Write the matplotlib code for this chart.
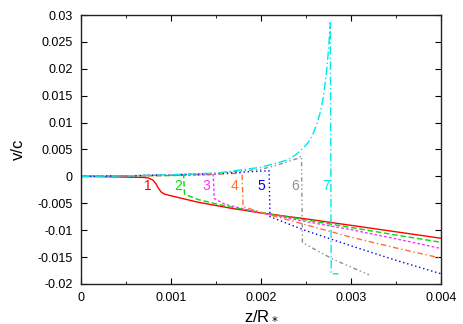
import matplotlib
matplotlib.use("Agg")
import matplotlib.pyplot as plt
from matplotlib.ticker import MultipleLocator

plt.rcParams["font.family"] = ["Liberation Sans", "DejaVu Sans"]

# velocity profiles v/c against z/R*, one per time step
z1 = [0, 0.0004, 0.0007, 0.00075, 0.0008, 0.00083, 0.00086, 0.00089, 0.00093, 0.001, 0.0013, 0.00166, 0.002, 0.0025, 0.003, 0.0035, 0.004]
v1 = [0, -0.0001, -0.0002, -0.0003, -0.0007, -0.0013, -0.0022, -0.0029, -0.0033, -0.0036, -0.0048, -0.0059, -0.0068, -0.0079, -0.0091, -0.0103, -0.0115]

z2 = [0, 0.0005, 0.001, 0.00114, 0.00115, 0.0013, 0.0016, 0.002, 0.0025, 0.003, 0.0035, 0.004]
v2 = [0, 0.0001, 0.00015, 0.0002, -0.0033, -0.0043, -0.0055, -0.0067, -0.0081, -0.0095, -0.0109, -0.01225]

z3 = [0, 0.0005, 0.001, 0.00147, 0.00148, 0.0016, 0.0018, 0.002, 0.0025, 0.003, 0.0035, 0.004]
v3 = [0, 0.0001, 0.0002, 0.0003, -0.0041, -0.0052, -0.0060, -0.0068, -0.0084, -0.0099, -0.0116, -0.0134]

z4 = [0, 0.0005, 0.001, 0.0015, 0.00179, 0.0018, 0.002, 0.0025, 0.003, 0.0035, 0.004]
v4 = [0, 0.0001, 0.0002, 0.0004, 0.0006, -0.0056, -0.0067, -0.0090, -0.0113, -0.0133, -0.0152]

z5 = [0, 0.0005, 0.001, 0.0015, 0.0018, 0.00209, 0.0021, 0.0025, 0.003, 0.0035, 0.004]
v5 = [0, 0.0001, 0.0003, 0.0005, 0.0008, 0.00105, -0.0075, -0.0101, -0.0129, -0.0156, -0.0181]

z6 = [0, 0.0005, 0.001, 0.0015, 0.002, 0.0022, 0.0024, 0.00245, 0.00246, 0.0028, 0.0032]
v6 = [0, 0.0001, 0.0003, 0.0006, 0.0013, 0.0022, 0.0033, 0.0038, -0.0123, -0.0154, -0.0183]

z7 = [0, 0.0005, 0.001, 0.0015, 0.002, 0.0022, 0.0023, 0.0024, 0.00245, 0.0025, 0.00254, 0.00258,
      0.00262, 0.00266, 0.00269, 0.00271, 0.00273, 0.00275, 0.00276, 0.00277, 0.00278, 0.00286]
v7 = [0, 0.0001, 0.0003, 0.0006, 0.0017, 0.0026, 0.0031, 0.0042, 0.0050, 0.0058, 0.0067, 0.0080,
      0.0097, 0.0120, 0.0145, 0.0170, 0.0198, 0.0236, 0.0260, 0.0286, -0.0181, -0.0181]

labels = ["1", "2", "3", "4", "5", "6", "7"]
label_z = [0.00074, 0.00108, 0.00139, 0.0017, 0.002, 0.00238, 0.00272]
label_v = [-0.0018] * 7

colors = ["#ff0000", "#00dd00", "#ff30ff", "#ff7030", "#0000ee", "#909090", "#00e8e8"]
styles = ["-", (0, (4, 2)), (0, (2, 1.5)), (0, (4, 2, 1, 2)), (0, (1, 2)), (0, (3, 2, 1, 2, 1, 2)), (0, (6, 2, 1, 2))]

fig = plt.figure(figsize=(4.63, 3.24), dpi=100)
ax = fig.add_axes([0.175, 0.1235, 0.7775, 0.8302])

for zs, vs, c, ls in zip([z1, z2, z3, z4, z5, z6, z7], [v1, v2, v3, v4, v5, v6, v7], colors, styles):
    ax.plot(zs, vs, color=c, linestyle=ls, lw=1)

for lab, lz, lv, c in zip(labels, label_z, label_v, colors):
    ax.text(lz, lv, lab, color=c, fontsize=10, ha="center", va="center")

ax.set_xlim(0, 0.004)
ax.set_ylim(-0.02, 0.03)
ax.xaxis.set_minor_locator(MultipleLocator(0.0005))
ax.set_xticks([0, 0.001, 0.002, 0.003, 0.004], labels=["0", "0.001", "0.002", "0.003", "0.004"])
ax.set_yticks([-0.02, -0.015, -0.01, -0.005, 0, 0.005, 0.01, 0.015, 0.02, 0.025, 0.03],
              labels=["-0.02", "-0.015", "-0.01", "-0.005", "0", "0.005", "0.01", "0.015", "0.02", "0.025", "0.03"])
ax.tick_params(which="both", direction="in", top=True, right=True, labelsize=9, pad=6)
ax.tick_params(which="major", length=4)
ax.tick_params(which="minor", length=2)
for sp in ax.spines.values():
    sp.set_linewidth(1)
    sp.set_color("#222222")

ax.set_xlabel("z/R$_*$", fontsize=12, labelpad=2)
ax.set_ylabel("v/c", fontsize=12, labelpad=8)

fig.savefig("out.png", dpi=100)
